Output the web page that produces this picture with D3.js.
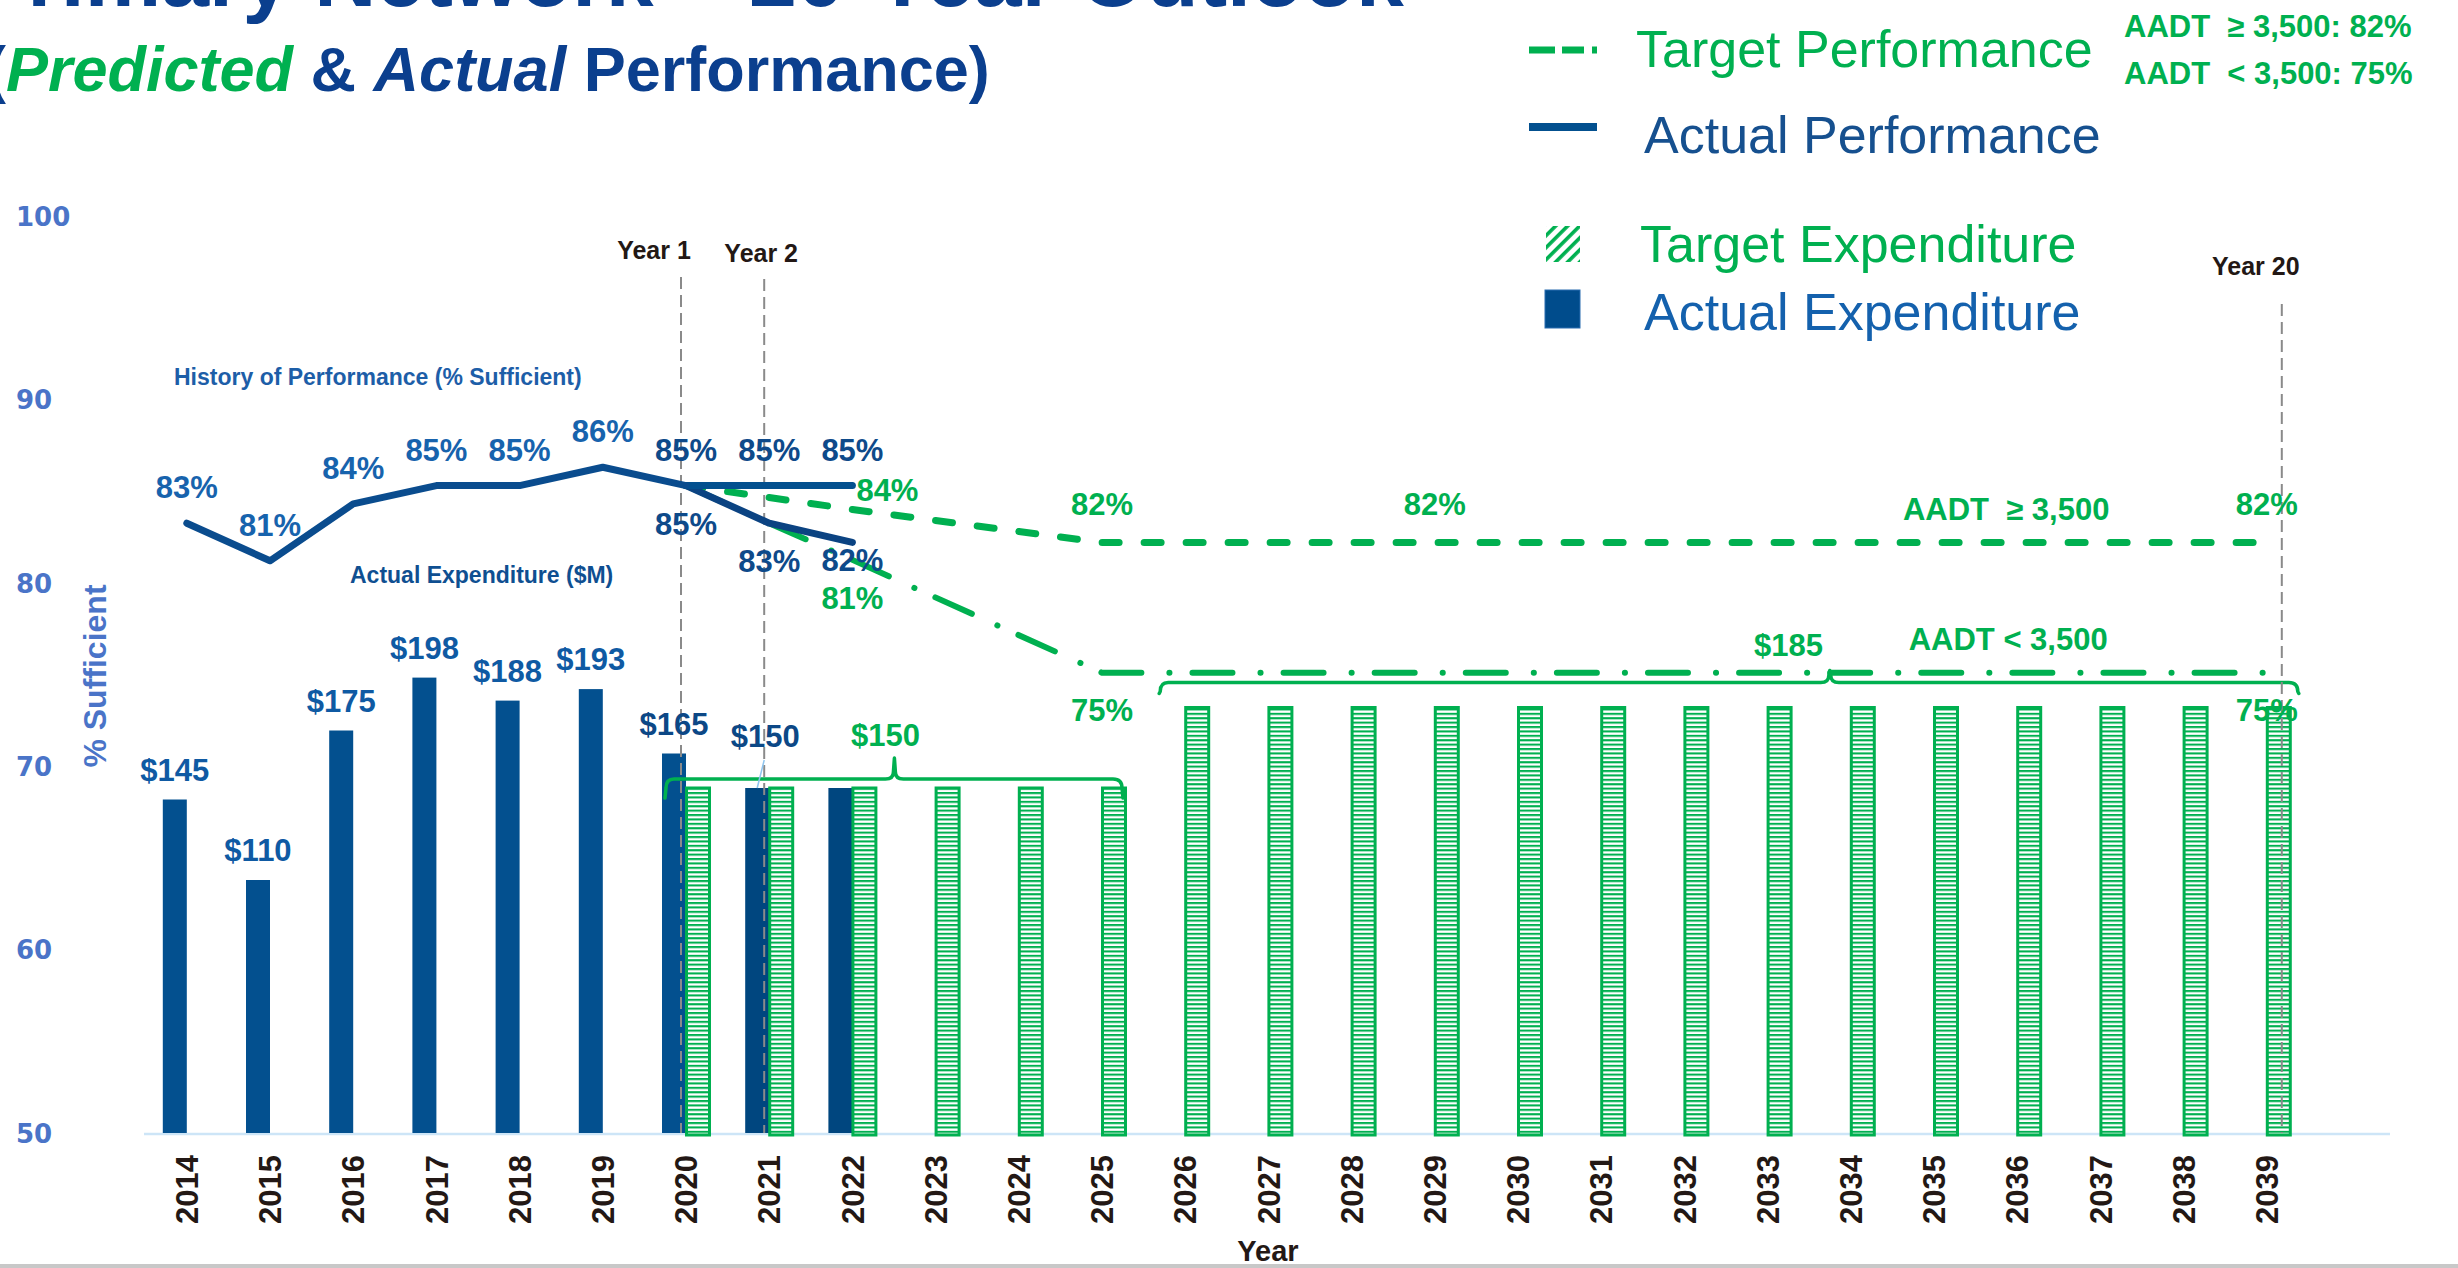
<!DOCTYPE html>
<html><head><meta charset="utf-8">
<script src="https://cdn.jsdelivr.net/npm/d3@7/dist/d3.min.js"></script>
<style>
body{margin:0;background:#fff}
svg{display:block}
text{font-family:"Liberation Sans",Arial,Helvetica,sans-serif}
</style>
</head><body>
<svg id="chart" width="2458" height="1268"></svg>
<script>
// ---------------- DATA ----------------
const years = ["2014","2015","2016","2017","2018","2019","2020","2021","2022","2023","2024","2025","2026",
  "2027","2028","2029","2030","2031","2032","2033","2034","2035","2036","2037","2038","2039"];
const yTicks = [50,60,70,80,90,100];

const actualExpYears = ["2014","2015","2016","2017","2018","2019","2020","2021","2022"];
const actualExp = [145,110,175,198,188,193,165,150,150];
const actualExpLabels = ["$145","$110","$175","$198","$188","$193","$165","$150",""];

const targetExpYears = ["2020","2021","2022","2023","2024","2025","2026","2027","2028","2029","2030","2031",
  "2032","2033","2034","2035","2036","2037","2038","2039"];
const targetExp = [150,150,150,150,150,150,185,185,185,185,185,185,185,185,185,185,185,185,185,185];

const histPerfYears = ["2014","2015","2016","2017","2018","2019","2020"];
const histPerf = [83.25,81.2,84.3,85.3,85.3,86.3,85.3];
const histPerfLabels = ["83%","81%","84%","85%","85%","86%","85%"];

const actualUpperYears = ["2020","2021","2022"];
const actualUpper = [85.3,85.3,85.3];
const actualUpperLabels = ["", "85%","85%"];
const actualLowerYears = ["2020","2021","2022"];
const actualLower = [85.3,83.25,82.2];
const actualLowerLabels = ["85%","83%","82%"];

const targetHighYears = ["2020","2022","2025","2039"];
const targetHigh = [85.3,84.0,82.2,82.2];
const targetLowYears = ["2020","2021","2022","2025","2039"];
const targetLow = [85.3,83.25,81.25,75.1,75.1];

const greenHighLabelYears = ["2025","2029","2039"];
const greenHighLabels = ["82%","82%","82%"];
const greenLowLabelYears = ["2025","2039"];
const greenLowLabels = ["75%","75%"];

const yearMarkerYears = ["2020","2021","2039"];
const yearMarkerLabels = ["Year 1","Year 2","Year 20"];

// ---------------- SETUP ----------------
const svg = d3.select("#chart");
const green = "#00b050", navy = "#03508f", navyDark = "#0b4382";
const x = d3.scaleBand().domain(years).range([145.2, 2308.4]).padding(0);
const bw = x.bandwidth();
const cx = d => x(d) + bw / 2;
const xs = d3.scaleBand().domain(["actual","target"]).range([-24, 24]);
const y = d3.scaleLinear().domain([50,100]).range([1133, 216]);
const y2 = d3.scaleLinear().domain([0,400]).range([1133, 213]);
const base = y2(0);

const defs = svg.append("defs");
const hp = defs.append("pattern").attr("id","hstripe").attr("patternUnits","userSpaceOnUse")
  .attr("width",10).attr("height",4.4);
hp.append("rect").attr("width",10).attr("height",4.4).attr("fill","#fff");
hp.append("rect").attr("width",10).attr("height",2.1).attr("fill",green);
const dp = defs.append("pattern").attr("id","diag").attr("patternUnits","userSpaceOnUse")
  .attr("width",8.5).attr("height",8.5).attr("patternTransform","rotate(45)");
dp.append("rect").attr("width",3.6).attr("height",8.5).attr("fill",green);

// ---------------- TITLE ----------------
svg.append("text").attr("x",-30).attr("y",6).attr("font-size",86).attr("font-weight","bold")
  .attr("fill","#0b3f8e").text("Primary Network – 20-Year Outlook");
const t2 = svg.append("text").attr("x",-15).attr("y",91).attr("font-size",63).attr("font-weight","bold")
  .attr("fill","#0b3f8e");
t2.append("tspan").text("(");
t2.append("tspan").attr("fill",green).attr("font-style","italic").text("Predicted");
t2.append("tspan").style("white-space","pre").text(" & ");
t2.append("tspan").attr("font-style","italic").text("Actual");
t2.append("tspan").style("white-space","pre").text(" Performance)");

// ---------------- LEGEND ----------------
const lg = svg.append("g");
lg.append("line").attr("x1",1529).attr("x2",1597).attr("y1",50).attr("y2",50)
  .attr("stroke",green).attr("stroke-width",7).attr("stroke-dasharray","26 7 22 8");
lg.append("text").attr("x",1636).attr("y",67).attr("font-size",52).attr("fill",green).text("Target Performance");
lg.append("text").attr("x",2124).attr("y",37).attr("font-size",31).attr("font-weight","bold").attr("fill",green)
  .style("white-space","pre").text("AADT  ≥ 3,500: 82%");
lg.append("text").attr("x",2124).attr("y",84).attr("font-size",31).attr("font-weight","bold").attr("fill",green)
  .style("white-space","pre").text("AADT  < 3,500: 75%");
lg.append("line").attr("x1",1529).attr("x2",1597).attr("y1",127).attr("y2",127)
  .attr("stroke",navy).attr("stroke-width",8);
lg.append("text").attr("x",1644).attr("y",153).attr("font-size",52).attr("fill","#16508f").text("Actual Performance");
lg.append("rect").attr("x",1546).attr("y",226).attr("width",34).attr("height",36).attr("fill","url(#diag)");
lg.append("text").attr("x",1640).attr("y",262).attr("font-size",52).attr("fill",green).text("Target Expenditure");
lg.append("rect").attr("x",1545).attr("y",290).attr("width",35).attr("height",38).attr("fill","#004c8c")
  .attr("stroke","#2a6db0").attr("stroke-width",1);
lg.append("text").attr("x",1644).attr("y",330).attr("font-size",52).attr("fill","#1461ad").text("Actual Expenditure");

// ---------------- AXES ----------------
const yAxis = svg.append("g").attr("transform","translate(16,0)")
  .call(d3.axisLeft(y).tickValues(yTicks).tickSize(0).tickFormat(d3.format("d")));
yAxis.select(".domain").remove();
yAxis.selectAll("text").attr("x",0).attr("text-anchor","start").attr("dy","0.36em")
  .attr("fill","#4a74c8").attr("font-size",26).attr("font-weight","bold")
  .style("font-family","'DejaVu Sans',Verdana,sans-serif");

svg.append("text").attr("transform","translate(106,676) rotate(-90)").attr("text-anchor","middle")
  .attr("font-size",32).attr("font-weight","bold").attr("fill","#4a74c8").text("% Sufficient");

svg.append("line").attr("x1",144).attr("x2",2390).attr("y1",base+1).attr("y2",base+1)
  .attr("stroke","#cde5f7").attr("stroke-width",2.5);

const xAxis = svg.append("g").attr("transform","translate(0,1155)")
  .call(d3.axisBottom(x).tickSize(0));
xAxis.select(".domain").remove();
xAxis.selectAll("text").attr("x",0).attr("y",0).attr("dy","0.36em").attr("transform","rotate(-90)")
  .attr("text-anchor","end").attr("fill","#231815").attr("font-size",31).attr("font-weight","bold")
  .style("font-family","'Liberation Sans',Arial,sans-serif");

// ---------------- BARS ----------------
svg.append("g").selectAll("rect").data(actualExp).join("rect")
  .attr("x",(d,i)=>cx(actualExpYears[i]) + xs("actual"))
  .attr("width",xs.bandwidth())
  .attr("y",d=>y2(d)).attr("height",d=>base - y2(d))
  .attr("fill",(d,i)=> i>=7 ? "#00467f" : navy);

svg.append("g").selectAll("rect").data(targetExp).join("rect")
  .attr("x",(d,i)=>cx(targetExpYears[i]) + xs("target") + 0.5)
  .attr("width",xs.bandwidth()-1)
  .attr("y",d=>y2(d)).attr("height",d=>base - y2(d) + 2)
  .attr("fill","url(#hstripe)").attr("stroke",green).attr("stroke-width",3);

// ---------------- BRACES ----------------
function bracePath(x0, x1, xt, yl, drop, tip) {
  const r = 9;
  return `M${x0},${yl+drop} L${x0+1},${yl+r} Q${x0+1},${yl} ${x0+r},${yl} ` +
    `L${xt-9},${yl} Q${xt-1},${yl} ${xt-1},${yl-7} L${xt},${yl-tip} L${xt+1},${yl-7} Q${xt+1},${yl} ${xt+9},${yl} ` +
    `L${x1-r},${yl} Q${x1},${yl} ${x1},${yl+r} L${x1+1},${yl+drop}`;
}
const braces = svg.append("g").attr("fill","none").attr("stroke",green).attr("stroke-width",3.5)
  .attr("stroke-linejoin","round").attr("stroke-linecap","round");
braces.append("path").attr("d", bracePath(cx("2020")-21, cx("2025")+20, cx("2022")+42, y2(150)-9, 19, 21));
braces.append("path").attr("d", bracePath(cx("2026")-26, cx("2039")+31, cx("2034")-21, y2(185)-25, 11, 12));

// ---------------- YEAR MARKERS ----------------
const markerDx = [-5,-5,15], markerTop = [277,279,304], markerLabelDx = [-27,-3,-26], markerLabelY = [259,262,275];
yearMarkerYears.forEach((yr,i)=>{
  const xx = cx(yr) + markerDx[i];
  svg.append("line").attr("x1",xx).attr("x2",xx).attr("y1",markerTop[i]).attr("y2",base)
    .attr("stroke","#8a8a8a").attr("stroke-width",2).attr("stroke-dasharray","12 6");
  svg.append("text").attr("x",xx + markerLabelDx[i]).attr("y",markerLabelY[i]).attr("text-anchor","middle")
    .attr("font-size",25).attr("font-weight","bold").attr("fill","#231815").text(yearMarkerLabels[i]);
});

// ---------------- LINES ----------------
const line = d3.line().x(d=>cx(d[0])).y(d=>y(d[1]));
svg.append("path").attr("d", line(targetHighYears.map((d,i)=>[d,targetHigh[i]])))
  .attr("fill","none").attr("stroke",green).attr("stroke-width",7).attr("stroke-linecap","round")
  .attr("stroke-dasharray","17 25");
svg.append("path").attr("d", line(targetLowYears.map((d,i)=>[d,targetLow[i]])))
  .attr("fill","none").attr("stroke",green).attr("stroke-width",6).attr("stroke-linecap","round")
  .attr("stroke-dasharray","40 28 0.1 23");
svg.append("path").attr("d", line(actualLowerYears.map((d,i)=>[d,actualLower[i]])))
  .attr("fill","none").attr("stroke",navyDark).attr("stroke-width",7).attr("stroke-linecap","round").attr("stroke-linejoin","round");
svg.append("path").attr("d", line(actualUpperYears.map((d,i)=>[d,actualUpper[i]])))
  .attr("fill","none").attr("stroke",navy).attr("stroke-width",7).attr("stroke-linecap","round");
svg.append("path").attr("d", line(histPerfYears.map((d,i)=>[d,histPerf[i]])))
  .attr("fill","none").attr("stroke","#0a4c8e").attr("stroke-width",7).attr("stroke-linejoin","round").attr("stroke-linecap","round");

// ---------------- LABELS ----------------
const lab = svg.append("g").attr("font-weight","bold").attr("text-anchor","middle");
lab.append("text").attr("x",174).attr("y",385).attr("text-anchor","start").attr("font-size",23)
  .attr("fill","#1d5ea8").text("History of Performance (% Sufficient)");
lab.append("text").attr("x",350).attr("y",583).attr("text-anchor","start").attr("font-size",23)
  .attr("fill","#0f4f91").text("Actual Expenditure ($M)");

histPerf.forEach((v,i)=>{
  lab.append("text").attr("x",cx(histPerfYears[i])).attr("y",y(v)-25).attr("font-size",31)
    .attr("fill", i<6 ? "#1763ad" : "#0e4a8a").text(histPerfLabels[i]);
});
actualUpper.forEach((v,i)=>{
  if (!actualUpperLabels[i]) return;
  lab.append("text").attr("x",cx(actualUpperYears[i])).attr("y",y(v)-25).attr("font-size",31)
    .attr("fill","#0e4a8a").text(actualUpperLabels[i]);
});
const lowerDy = [49,48.5,29];
actualLower.forEach((v,i)=>{
  lab.append("text").attr("x",cx(actualLowerYears[i])).attr("y",y(v)+lowerDy[i]).attr("font-size",31)
    .attr("fill","#0e4a8a").text(actualLowerLabels[i]);
});
// green target labels
lab.append("text").attr("x",cx("2022")+4).attr("y",y(84.0)-8).attr("text-anchor","start").attr("font-size",31)
  .attr("fill",green).text("84%");
lab.append("text").attr("x",cx("2022")).attr("y",y(81.25)+49).attr("font-size",31)
  .attr("fill",green).text("81%");
greenHighLabelYears.forEach((yr,i)=>{
  lab.append("text").attr("x",cx(yr)).attr("y",y(82.2)-27).attr("font-size",31).attr("fill",green).text(greenHighLabels[i]);
});
greenLowLabelYears.forEach((yr,i)=>{
  lab.append("text").attr("x",cx(yr)).attr("y",y(75.1)+48).attr("font-size",31).attr("fill",green).text(greenLowLabels[i]);
});
lab.append("text").attr("x",cx("2036")-11).attr("y",y(82.2)-22).attr("font-size",31).attr("fill",green)
  .style("white-space","pre").text("AADT  ≥ 3,500");
lab.append("text").attr("x",cx("2036")-9).attr("y",y(75.1)-23).attr("font-size",31).attr("fill",green)
  .text("AADT < 3,500");

// expenditure labels
actualExp.forEach((v,i)=>{
  if (!actualExpLabels[i]) return;
  const bx = cx(actualExpYears[i]) + xs("actual") + xs.bandwidth()/2;
  const lifted = i === 7;
  lab.append("text").attr("x", lifted ? bx+8 : bx).attr("y", y2(v) - (lifted ? 41 : 19)).attr("font-size",31)
    .attr("fill", i<6 ? "#0f5aa3" : "#0c4886").text(actualExpLabels[i]);
  if (lifted) {
    svg.append("line").attr("x1",bx+7).attr("y1",y2(v)-28).attr("x2",bx).attr("y2",y2(v))
      .attr("stroke","#8ec5ef").attr("stroke-width",1.5);
  }
});
lab.append("text").attr("x",cx("2022")+33).attr("y",y2(150)-42).attr("font-size",31).attr("fill",green).text("$150");
lab.append("text").attr("x",cx("2033")+21).attr("y",y2(185)-52).attr("font-size",31).attr("fill",green).text("$185");

// x title and bottom rule
svg.append("text").attr("x",1268).attr("y",1261).attr("text-anchor","middle").attr("font-size",29)
  .attr("font-weight","bold").attr("fill","#231815").text("Year");
svg.append("rect").attr("x",0).attr("y",1264).attr("width",2458).attr("height",4).attr("fill","#c8c8c8");
</script>
</body></html>
